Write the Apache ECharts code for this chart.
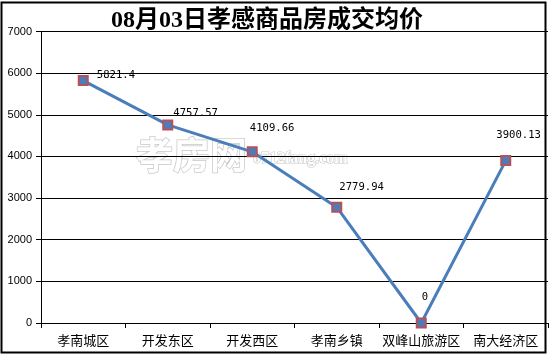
<!DOCTYPE html>
<html>
<head>
<meta charset="utf-8">
<script src="https://cdn.jsdelivr.net/npm/echarts@6/dist/echarts.min.js"></script>
<style>
html,body{margin:0;padding:0;background:#fff;}
#chart{width:551px;height:356px;}
</style>
</head>
<body>
<div id="chart"></div>
<script>
const TITLE = '08月03日孝感商品房成交均价';
const categories = ['孝南城区', '开发东区', '开发西区', '孝南乡镇', '双峰山旅游区', '南大经济区'];
const values = [5821.4, 4757.57, 4109.66, 2779.94, 0, 3900.13];
const valueLabels = ['5821.4', '4757.57', '4109.66', '2779.94', '0', '3900.13'];
const yTicks = [0, 1000, 2000, 3000, 4000, 5000, 6000, 7000];
// label nudges (style only)
const labelOffsets = [[8, -5], [0, -12], [-8, -24], [-3, -20], [-5, -26], [-15, -25]];

const chart = echarts.init(document.getElementById('chart'), null, {renderer: 'canvas'});
chart.setOption({
  animation: false,
  backgroundColor: '#ffffff',
  title: {
    text: TITLE,
    left: 262,
    top: 4,
    textAlign: 'center',
    textStyle: {
      fontFamily: 'Liberation Serif, Noto Sans CJK SC',
      fontWeight: 'bold',
      fontSize: 24,
      color: '#000'
    }
  },
  graphic: [
    {
      type: 'rect', z: 100, silent: true,
      shape: {x: 1.5, y: 2.5, width: 544, height: 350},
      style: {fill: 'none', stroke: '#000', lineWidth: 2}
    },
    {
      type: 'text', z: -1, silent: true, x: 136, y: 136,
      style: {text: '孝房网', fontSize: 37, fontWeight: 'bold', fontFamily: 'Noto Sans CJK SC',
              fill: '#ffffff', stroke: '#c8c8c8', lineWidth: 1.5, textVerticalAlign: 'top'}
    },
    {
      type: 'text', z: -1, silent: true, x: 253, y: 151,
      style: {text: '0712fang.com', fontSize: 16, fontWeight: 'bold', fontFamily: 'Liberation Serif',
              fill: '#ffffff', stroke: '#c8c8c8', lineWidth: 1.2, textVerticalAlign: 'top'}
    }
  ],
  grid: {left: 41, right: 3, top: 31.5, bottom: 33, containLabel: false},
  xAxis: {
    type: 'category',
    data: categories,
    boundaryGap: true,
    axisLine: {lineStyle: {color: '#000', width: 1}},
    axisTick: {show: true, alignWithLabel: false, length: 5, lineStyle: {color: '#000'}},
    axisLabel: {
      interval: 0,
      margin: 11,
      fontFamily: 'Noto Sans CJK SC',
      fontSize: 13,
      color: '#000'
    },
    splitLine: {show: false}
  },
  yAxis: {
    type: 'value',
    min: yTicks[0],
    max: yTicks[yTicks.length - 1],
    interval: 1000,
    axisLine: {show: true, lineStyle: {color: '#000', width: 1}},
    axisTick: {show: true, length: 5, lineStyle: {color: '#000'}},
    axisLabel: {
      margin: 9,
      fontFamily: 'Liberation Sans',
      fontSize: 11,
      color: '#000',
      formatter: v => String(v)
    },
    splitLine: {show: true, lineStyle: {color: '#000', width: 1}}
  },
  series: [{
    type: 'line',
    data: values.map((v, i) => ({
      value: v,
      label: {offset: labelOffsets[i], formatter: valueLabels[i]}
    })),
    symbol: 'rect',
    symbolSize: 9,
    lineStyle: {color: '#4a7ebb', width: 3},
    itemStyle: {color: '#4a7ebb', borderColor: '#b8505a', borderWidth: 2},
    label: {
      show: true,
      position: 'right',
      distance: 0,
      fontFamily: 'DejaVu Sans Mono',
      fontSize: 10.6,
      color: '#000'
    },
    z: 5
  }]
});
</script>
</body>
</html>
